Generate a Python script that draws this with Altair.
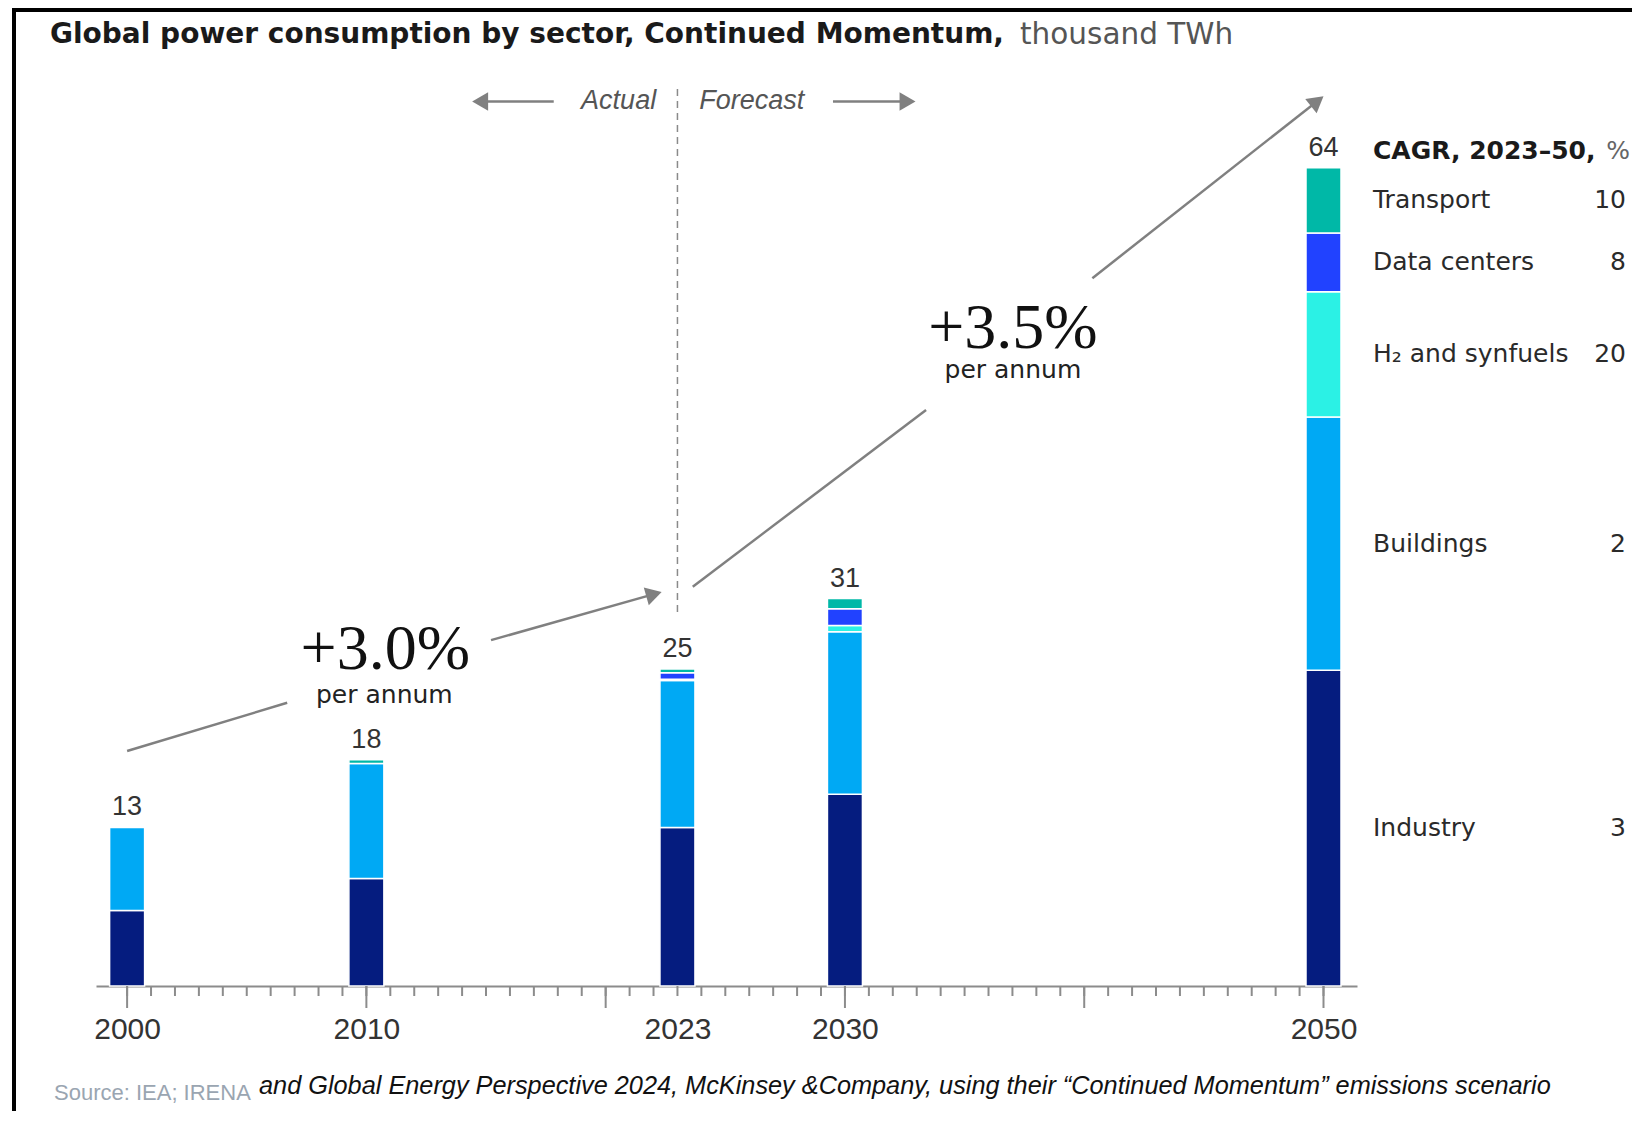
import math
import altair as alt
import pandas as pd

# ---------------- data ----------------
years = [2000, 2010, 2023, 2030, 2050]
sectors = ["Industry", "Buildings", "H₂ and synfuels", "Data centers", "Transport"]
industry = [5.9, 8.4, 12.4, 15.0, 24.7]
buildings = [6.5, 9.0, 11.5, 12.7, 19.8]
h2_synfuels = [0.0, 0.0, 0.1, 0.5, 9.8]
data_centers = [0.0, 0.0, 0.5, 1.3, 4.6]
transport = [0.0, 0.3, 0.3, 0.8, 5.1]
total_labels = ["13", "18", "25", "31", "64"]
cagr_2023_50 = ["3", "2", "20", "8", "10"]
sector_colors = ["#051C7F", "#00A9F4", "#2BF1E5", "#2142FF", "#00B8A7"]
label_years = [2000, 2010, 2023, 2030, 2050]
tick_years = list(range(2000, 2051))
major_tick_years = [2000, 2010, 2020, 2030, 2040, 2050]

# ---------------- layout ----------------
W, H = 1261, 895
XDOM = [1998.7, 2051.4]
YDOM = [0, 70]
PPY = W / (XDOM[1] - XDOM[0])
PPU = H / (YDOM[1] - YDOM[0])
xs = alt.Scale(domain=XDOM, nice=False, zero=False, padding=0)
ys = alt.Scale(domain=YDOM, nice=False, zero=False, padding=0)
GRAY = "#808080"
AXIS_GRAY = "#8c8c8c"

x_axis = alt.Axis(values=label_years, format="d", ticks=False, tickSize=0, grid=False,
                  domain=True, domainColor=AXIS_GRAY, domainWidth=2,
                  labelFont="Liberation Sans", labelFontSize=30, labelColor="#333333",
                  labelPadding=28, labelFlush=False, labelOverlap=False, title=None)


def X(field, t="quantitative"):
    return alt.X(field, type=t, scale=xs, axis=x_axis)


def Y(field, **kw):
    return alt.Y(field, type="quantitative", scale=ys, axis=None, **kw)


series = [industry, buildings, h2_synfuels, data_centers, transport]
rows = []
for si, (name, vals) in enumerate(zip(sectors, series)):
    for yr, v in zip(years, vals):
        if v > 0:
            rows.append({"year": yr, "sector": name, "value": v, "order": si})
bars_df = pd.DataFrame(rows)

tops = [sum(s[i] for s in series) for i in range(len(years))]
tot_df = pd.DataFrame({"year": years, "top": tops, "label": total_labels})

# legend positioned at 2050 segment mid-points
i50 = years.index(2050)
cum = 0
leg_rows = []
for name, vals, cg in zip(sectors, series, cagr_2023_50):
    v = vals[i50]
    leg_rows.append({"year": 2050, "mid": cum + v / 2, "sector": name, "cagr": cg})
    cum += v
leg_df = pd.DataFrame(leg_rows)

# ---------------- bars ----------------
bars = alt.Chart(bars_df).mark_bar(size=35, stroke="white", strokeWidth=1.5).encode(
    x=X("year"),
    y=Y("value", stack="zero"),
    color=alt.Color("sector:N", scale=alt.Scale(domain=sectors, range=sector_colors), legend=None),
    order=alt.Order("order:Q", sort="ascending"),
)

totals = alt.Chart(tot_df).mark_text(font="Liberation Sans", fontSize=27, color="#333333",
                                     baseline="middle", dy=-20).encode(
    x=X("year"), y=Y("top"), text="label:N")

# ---------------- axis ticks ----------------
minor = alt.Chart(pd.DataFrame({"year": tick_years})).mark_rule(color=AXIS_GRAY, strokeWidth=2).encode(
    x=X("year"), y=alt.value(H), y2=alt.value(H + 10))
major = alt.Chart(pd.DataFrame({"year": major_tick_years})).mark_rule(color=AXIS_GRAY, strokeWidth=2).encode(
    x=X("year"), y=alt.value(H), y2=alt.value(H + 22))

# ---------------- legend ----------------
LX = 1373 - 96
leg_names = alt.Chart(leg_df).mark_text(font="DejaVu Sans", fontSize=25, color="#2a2a2a",
                                        align="left", baseline="middle").encode(
    x=alt.value(LX), y=Y("mid"), text="sector:N")
leg_vals = alt.Chart(leg_df).mark_text(font="DejaVu Sans", fontSize=25, color="#2a2a2a",
                                       align="right", baseline="middle").encode(
    x=alt.value(1626 - 96), y=Y("mid"), text="cagr:N")
one = pd.DataFrame({"a": [0]})
leg_head = alt.Chart(one).mark_text(font="DejaVu Sans", fontSize=25, fontWeight="bold", color="#1a1a1a",
                                    align="left", baseline="middle", text="CAGR, 2023–50,").encode(
    x=alt.value(LX), y=alt.value(59.5))
leg_pct = alt.Chart(one).mark_text(font="DejaVu Sans", fontSize=25, color="#666666",
                                   align="right", baseline="middle", text="%").encode(
    x=alt.value(1630 - 96), y=alt.value(59.5))

# ---------------- annotations ----------------
segs = [
    (2000.0, 18.38, 2006.69, 22.15, False),
    (2015.21, 27.05, 2022.34, 30.82, True),
    (2023.64, 31.23, 2033.39, 45.05, False),
    (2040.34, 55.36, 2050.0, 69.59, True),
    (2017.83, 69.18, 2014.42, 69.18, True),
    (2029.5, 69.18, 2032.95, 69.18, True),
]
line_rows, head_rows = [], []
for x0, y0, x1, y1, tip in segs:
    if tip:
        dxp, dyp = (x1 - x0) * PPY, (y1 - y0) * PPU
        L = math.hypot(dxp, dyp)
        ux, uy = dxp / L, dyp / L
        cx, cy = x1 - ux * 8 / PPY, y1 - uy * 8 / PPU
        ang = math.degrees(math.atan2(-dyp, dxp)) % 360
        head_rows.append({"x": cx, "y": cy, "ang": ang})
        line_rows.append({"x": x0, "y": y0, "x2": cx, "y2": cy})
    else:
        line_rows.append({"x": x0, "y": y0, "x2": x1, "y2": y1})

arrow_lines = alt.Chart(pd.DataFrame(line_rows)).mark_rule(color=GRAY, strokeWidth=2.5).encode(
    x=X("x"), y=Y("y"), x2="x2:Q", y2="y2:Q")
arrow_heads = alt.Chart(pd.DataFrame(head_rows)).mark_point(
    shape="triangle-right", filled=True, size=340, color=GRAY, opacity=1).encode(
    x=X("x"), y=Y("y"), angle=alt.Angle("ang:Q", scale=None))

divider = alt.Chart(pd.DataFrame({"x": [2023], "y": [70.16], "y2": [29.26]})).mark_rule(
    color="#8a8a8a", strokeWidth=1.5, strokeDash=[7, 5]).encode(x=X("x"), y=Y("y"), y2="y2:Q")

af_df = pd.DataFrame({"x": [2022.11, 2023.91], "y": [69.18, 69.18],
                      "t": ["Actual", "Forecast"]})
actual = alt.Chart(af_df.iloc[[0]]).mark_text(font="Liberation Sans", fontStyle="italic", fontSize=27,
                                              color="#555555", align="right", baseline="middle").encode(
    x=X("x"), y=Y("y"), text="t:N")
forecast = alt.Chart(af_df.iloc[[1]]).mark_text(font="Liberation Sans", fontStyle="italic", fontSize=27,
                                                color="#555555", align="left", baseline="middle").encode(
    x=X("x"), y=Y("y"), text="t:N")

pct_df = pd.DataFrame({"x": [2010.79, 2037.02], "y": [26.3, 51.4], "t": ["+3.0%", "+3.5%"]})
pa_df = pd.DataFrame({"x": [2010.75, 2037.02], "y": [22.75, 48.15], "t": ["per annum", "per annum"]})
pct = alt.Chart(pct_df).mark_text(font="Liberation Serif", fontSize=64, color="#111111",
                                  baseline="middle").encode(x=X("x"), y=Y("y"), text="t:N")
per_annum = alt.Chart(pa_df).mark_text(font="DejaVu Sans", fontSize=25, color="#222222",
                                       baseline="middle").encode(x=X("x"), y=Y("y"), text="t:N")

# ---------------- title, source, frame ----------------
title_b = alt.Chart(one).mark_text(font="DejaVu Sans", fontSize=28, fontWeight="bold", color="#1a1a1a",
                                   align="left", baseline="middle",
                                   text="Global power consumption by sector, Continued Momentum,").encode(
    x=alt.value(-46), y=alt.value(-56.5))
title_r = alt.Chart(one).mark_text(font="DejaVu Sans", fontSize=29.5, color="#555555",
                                   align="left", baseline="middle", text="thousand TWh").encode(
    x=alt.value(1020 - 96), y=alt.value(-56.5))
src1 = alt.Chart(one).mark_text(font="Liberation Sans", fontSize=22, color="#9aa5b1",
                                align="left", baseline="middle", text="Source: IEA; IRENA").encode(
    x=alt.value(54 - 96), y=alt.value(1002))
src2 = alt.Chart(one).mark_text(
    font="Liberation Sans", fontStyle="italic", fontSize=25.3, color="#111111", align="left", baseline="middle",
    text="and Global Energy Perspective 2024, McKinsey &Company, using their “Continued Momentum” emissions scenario"
).encode(x=alt.value(259 - 96), y=alt.value(995))
frame_left = alt.Chart(one).mark_rule(color="black", strokeWidth=4).encode(
    x=alt.value(-82), y=alt.value(-83), y2=alt.value(1020))
frame_top = alt.Chart(one).mark_rule(color="black", strokeWidth=4).encode(
    x=alt.value(-84), x2=alt.value(1540), y=alt.value(-81))

chart = alt.layer(
    bars, totals, minor, major, divider, arrow_lines, arrow_heads, actual, forecast, pct, per_annum,
    leg_names, leg_vals, leg_head, leg_pct, title_b, title_r, src1, src2, frame_left, frame_top,
).properties(
    width=W, height=H,
    autosize=alt.AutoSizeParams(type="none"),
    padding={"left": 88, "top": 83, "right": 275, "bottom": 125},
).configure_view(stroke=None)

chart.save("out.html", embed_options={"renderer": "svg", "actions": False})
